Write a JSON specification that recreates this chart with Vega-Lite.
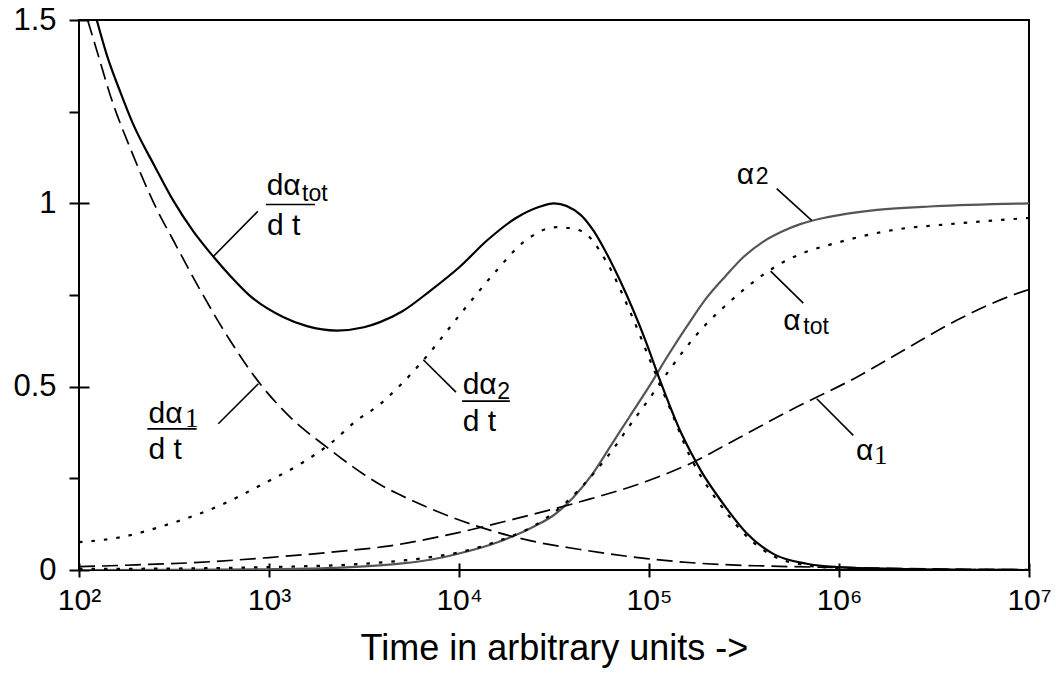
{
  "$schema": "https://vega.github.io/schema/vega-lite/v6.json",
  "width": 950,
  "height": 550,
  "autosize": {"type": "none"},
  "padding": {"left": 79, "top": 20, "right": 27, "bottom": 107},
  "background": "white",
  "config": {
    "view": {"stroke": "black", "strokeWidth": 2},
    "axis": {"grid": false, "labelColor": "black", "titleColor": "black", "tickColor": "black"}
  },
  "datasets": {
    "curves": [
      {"s":"datot","t":124,"v":1.5},{"s":"datot","t":141,"v":1.40},{"s":"datot","t":166,"v":1.30},{"s":"datot","t":192,"v":1.218},{"s":"datot","t":251,"v":1.10},{"s":"datot","t":313,"v":1.008},{"s":"datot","t":398,"v":0.925},{"s":"datot","t":509,"v":0.855},{"s":"datot","t":631,"v":0.80},{"s":"datot","t":789,"v":0.749},{"s":"datot","t":1186,"v":0.690},{"s":"datot","t":1585,"v":0.665},{"s":"datot","t":2270,"v":0.653},{"s":"datot","t":3162,"v":0.662},{"s":"datot","t":3837,"v":0.676},{"s":"datot","t":5012,"v":0.705},{"s":"datot","t":7079,"v":0.762},{"s":"datot","t":10000,"v":0.825},{"s":"datot","t":14130,"v":0.90},{"s":"datot","t":19950,"v":0.96},{"s":"datot","t":26300,"v":0.99},{"s":"datot","t":31620,"v":1.0},{"s":"datot","t":43350,"v":0.97},{"s":"datot","t":50930,"v":0.926},{"s":"datot","t":58880,"v":0.87},{"s":"datot","t":70310,"v":0.79},{"s":"datot","t":97270,"v":0.617},{"s":"datot","t":114300,"v":0.517},{"s":"datot","t":145500,"v":0.381},{"s":"datot","t":164400,"v":0.325},{"s":"datot","t":190500,"v":0.265},{"s":"datot","t":223900,"v":0.21},{"s":"datot","t":263000,"v":0.16},{"s":"datot","t":326600,"v":0.10},{"s":"datot","t":450800,"v":0.044},{"s":"datot","t":676100,"v":0.017},{"s":"datot","t":1000000,"v":0.008},{"s":"datot","t":1995000,"v":0.003},{"s":"datot","t":3981000,"v":0.001},{"s":"datot","t":10000000,"v":0},
      {"s":"da2","t":100,"v":0.076},{"s":"da2","t":164,"v":0.089},{"s":"da2","t":301,"v":0.126},{"s":"da2","t":552,"v":0.176},{"s":"da2","t":933,"v":0.235},{"s":"da2","t":1514,"v":0.294},{"s":"da2","t":2094,"v":0.344},{"s":"da2","t":2897,"v":0.408},{"s":"da2","t":3837,"v":0.452},{"s":"da2","t":4887,"v":0.503},{"s":"da2","t":6486,"v":0.572},{"s":"da2","t":10540,"v":0.708},{"s":"da2","t":15780,"v":0.817},{"s":"da2","t":21830,"v":0.894},{"s":"da2","t":32660,"v":0.935},{"s":"da2","t":43350,"v":0.926},{"s":"da2","t":59840,"v":0.84},{"s":"da2","t":79430,"v":0.705},{"s":"da2","t":105400,"v":0.55},{"s":"da2","t":129100,"v":0.44},{"s":"da2","t":164400,"v":0.31},{"s":"da2","t":190500,"v":0.25},{"s":"da2","t":223900,"v":0.196},{"s":"da2","t":263000,"v":0.148},{"s":"da2","t":326600,"v":0.092},{"s":"da2","t":450800,"v":0.038},{"s":"da2","t":676100,"v":0.013},{"s":"da2","t":1000000,"v":0.005},{"s":"da2","t":1995000,"v":0.001},{"s":"da2","t":10000000,"v":0},
      {"s":"da1","t":111,"v":1.5},{"s":"da1","t":126,"v":1.405},{"s":"da1","t":146,"v":1.295},{"s":"da1","t":193,"v":1.13},{"s":"da1","t":256,"v":0.985},{"s":"da1","t":313,"v":0.90},{"s":"da1","t":416,"v":0.781},{"s":"da1","t":624,"v":0.626},{"s":"da1","t":897,"v":0.508},{"s":"da1","t":1291,"v":0.417},{"s":"da1","t":2014,"v":0.335},{"s":"da1","t":3133,"v":0.262},{"s":"da1","t":3837,"v":0.233},{"s":"da1","t":4887,"v":0.205},{"s":"da1","t":7031,"v":0.168},{"s":"da1","t":12910,"v":0.117},{"s":"da1","t":23660,"v":0.08},{"s":"da1","t":43350,"v":0.056},{"s":"da1","t":97270,"v":0.031},{"s":"da1","t":201400,"v":0.017},{"s":"da1","t":398100,"v":0.011},{"s":"da1","t":1000000,"v":0.007},{"s":"da1","t":3162000,"v":0.003},{"s":"da1","t":10000000,"v":0.001},
      {"s":"a2","t":100,"v":0},{"s":"a2","t":316,"v":0.0005},{"s":"a2","t":1000,"v":0.002},{"s":"a2","t":1995,"v":0.005},{"s":"a2","t":3162,"v":0.01},{"s":"a2","t":5012,"v":0.018},{"s":"a2","t":7079,"v":0.028},{"s":"a2","t":10000,"v":0.045},{"s":"a2","t":15850,"v":0.075},{"s":"a2","t":25120,"v":0.12},{"s":"a2","t":31620,"v":0.15},{"s":"a2","t":39810,"v":0.197},{"s":"a2","t":50120,"v":0.26},{"s":"a2","t":63100,"v":0.34},{"s":"a2","t":79430,"v":0.42},{"s":"a2","t":100000,"v":0.50},{"s":"a2","t":125900,"v":0.585},{"s":"a2","t":158500,"v":0.665},{"s":"a2","t":199500,"v":0.74},{"s":"a2","t":251200,"v":0.80},{"s":"a2","t":316200,"v":0.855},{"s":"a2","t":398100,"v":0.895},{"s":"a2","t":501200,"v":0.923},{"s":"a2","t":631000,"v":0.944},{"s":"a2","t":794300,"v":0.958},{"s":"a2","t":1000000,"v":0.968},{"s":"a2","t":1585000,"v":0.982},{"s":"a2","t":3162000,"v":0.992},{"s":"a2","t":10000000,"v":1.0},
      {"s":"atot","t":100,"v":0.003},{"s":"atot","t":316,"v":0.004},{"s":"atot","t":1000,"v":0.008},{"s":"atot","t":3162,"v":0.017},{"s":"atot","t":7079,"v":0.035},{"s":"atot","t":10000,"v":0.048},{"s":"atot","t":15850,"v":0.078},{"s":"atot","t":25120,"v":0.122},{"s":"atot","t":35480,"v":0.178},{"s":"atot","t":50120,"v":0.258},{"s":"atot","t":63100,"v":0.322},{"s":"atot","t":79430,"v":0.395},{"s":"atot","t":100000,"v":0.466},{"s":"atot","t":125900,"v":0.54},{"s":"atot","t":158500,"v":0.61},{"s":"atot","t":199500,"v":0.67},{"s":"atot","t":251200,"v":0.72},{"s":"atot","t":316200,"v":0.765},{"s":"atot","t":398100,"v":0.805},{"s":"atot","t":501200,"v":0.838},{"s":"atot","t":631000,"v":0.862},{"s":"atot","t":1000000,"v":0.894},{"s":"atot","t":1862000,"v":0.926},{"s":"atot","t":4169000,"v":0.945},{"s":"atot","t":8710000,"v":0.958},{"s":"atot","t":10000000,"v":0.96},
      {"s":"a1","t":100,"v":0.009},{"s":"a1","t":200,"v":0.014},{"s":"a1","t":400,"v":0.02},{"s":"a1","t":1000,"v":0.034},{"s":"a1","t":2270,"v":0.05},{"s":"a1","t":4335,"v":0.066},{"s":"a1","t":8610,"v":0.095},{"s":"a1","t":19230,"v":0.138},{"s":"a1","t":43350,"v":0.186},{"s":"a1","t":97270,"v":0.242},{"s":"a1","t":164400,"v":0.29},{"s":"a1","t":301300,"v":0.362},{"s":"a1","t":552100,"v":0.435},{"s":"a1","t":1239000,"v":0.526},{"s":"a1","t":2270000,"v":0.604},{"s":"a1","t":4159000,"v":0.681},{"s":"a1","t":9333000,"v":0.76},{"s":"a1","t":10000000,"v":0.765}
    ],
    "labels": [
      {"t":972,"v":1.022,"txt":"dα","role":"main"},
      {"t":1493,"v":1.006,"txt":"tot","role":"sub"},
      {"t":976,"v":0.913,"txt":"d t","role":"main"},
      {"t":232,"v":0.4005,"txt":"dα","role":"main"},
      {"t":361,"v":0.389,"txt":"1","role":"serif"},
      {"t":232,"v":0.3034,"txt":"d t","role":"main"},
      {"t":10450,"v":0.481,"txt":"dα","role":"main"},
      {"t":15900,"v":0.467,"txt":"2","role":"sub"},
      {"t":10450,"v":0.378,"txt":"d t","role":"main"},
      {"t":289700,"v":1.054,"txt":"α","role":"main"},
      {"t":365000,"v":1.054,"txt":"2","role":"sub"},
      {"t":509300,"v":0.6535,"txt":"α","role":"main"},
      {"t":648600,"v":0.6426,"txt":"tot","role":"sub"},
      {"t":1227000,"v":0.2988,"txt":"α","role":"main"},
      {"t":1530000,"v":0.2898,"txt":"1","role":"serif"}
    ],
    "bars": [
      {"t":964,"t2":1746,"v":0.997},
      {"t":229,"t2":416,"v":0.385},
      {"t":10380,"t2":18530,"v":0.4606}
    ],
    "leaders": [
      {"t":509,"v":0.855,"t2":873,"v2":0.978},
      {"t":541,"v":0.399,"t2":879,"v2":0.508},
      {"t":6486,"v":0.5735,"t2":9638,"v2":0.485},
      {"t":470000,"v":1.040,"t2":717800,"v2":0.9536},
      {"t":436500,"v":0.8153,"t2":648600,"v2":0.728},
      {"t":763500,"v":0.467,"t2":1189000,"v2":0.367}
    ]
  },
  "layer": [
    {
      "data": {"name": "curves"},
      "transform": [{"filter": "datum.s == 'a2'"}],
      "mark": {"type": "line", "color": "#555555", "strokeWidth": 2.2, "interpolate": "monotone", "clip": true},
      "encoding": {
        "x": {
          "field": "t", "type": "quantitative",
          "scale": {"type": "log", "domain": [100, 10000000], "nice": false},
          "axis": {
            "title": "Time in arbitrary units ->",
            "values": [100, 1000, 10000, 100000, 1000000, 10000000],
            "labelExpr": "'10' + ['\u2070','\u00b9','\u00b2','\u00b3','\u2074','\u2075','\u2076','\u2077'][round(log(datum.value)/LN10)]",
            "offset": -7, "tickSize": 14, "tickWidth": 2, "domain": false,
            "labelPadding": 8, "labelFont": "Liberation Sans", "labelFontSize": 30,
            "labelFlush": false, "labelOverlap": false,
            "titleFont": "Liberation Sans", "titleFontSize": 36, "titleFontWeight": "normal", "titlePadding": 16
          }
        },
        "y": {
          "field": "v", "type": "quantitative",
          "scale": {"domain": [0, 1.5], "nice": false},
          "axis": {
            "title": null,
            "values": [0, 0.25, 0.5, 0.75, 1, 1.25, 1.5],
            "labelExpr": "datum.value % 0.5 == 0 ? format(datum.value, '~g') : ''",
            "offset": -10, "tickSize": 20, "tickWidth": 2, "domain": false,
            "tickDash": {"condition": {"test": "datum.value % 0.5 != 0", "value": [0, 10, 10, 0]}, "value": [100, 0]},
            "labelPadding": 13, "labelFont": "Liberation Sans", "labelFontSize": 31, "labelFlush": false, "labelOverlap": false
          }
        }
      }
    },
    {
      "data": {"name": "curves"},
      "transform": [{"filter": "datum.s == 'datot'"}],
      "mark": {"type": "line", "color": "black", "strokeWidth": 2.2, "interpolate": "monotone", "clip": true},
      "encoding": {"x": {"field": "t", "type": "quantitative"}, "y": {"field": "v", "type": "quantitative"}}
    },
    {
      "data": {"name": "curves"},
      "transform": [{"filter": "datum.s == 'da1' || datum.s == 'a1'"}],
      "mark": {"type": "line", "color": "black", "strokeWidth": 1.7, "strokeDash": [16, 7], "interpolate": "monotone", "clip": true},
      "encoding": {"x": {"field": "t", "type": "quantitative"}, "y": {"field": "v", "type": "quantitative"}, "detail": {"field": "s"}}
    },
    {
      "data": {"name": "curves"},
      "transform": [{"filter": "datum.s == 'da2' || datum.s == 'atot'"}],
      "mark": {"type": "line", "color": "black", "strokeWidth": 2.2, "strokeDash": [3.5, 9], "interpolate": "monotone", "clip": true},
      "encoding": {"x": {"field": "t", "type": "quantitative"}, "y": {"field": "v", "type": "quantitative"}, "detail": {"field": "s"}}
    },
    {
      "data": {"name": "leaders"},
      "mark": {"type": "rule", "color": "black", "strokeWidth": 1.6},
      "encoding": {
        "x": {"field": "t", "type": "quantitative"}, "y": {"field": "v", "type": "quantitative"},
        "x2": {"field": "t2"}, "y2": {"field": "v2"}
      }
    },
    {
      "data": {"name": "bars"},
      "mark": {"type": "rule", "color": "black", "strokeWidth": 1.6},
      "encoding": {
        "x": {"field": "t", "type": "quantitative"}, "y": {"field": "v", "type": "quantitative"},
        "x2": {"field": "t2"}
      }
    },
    {
      "data": {"name": "labels"},
      "transform": [{"filter": "datum.role == 'main'"}],
      "mark": {"type": "text", "align": "left", "baseline": "alphabetic", "font": "Liberation Sans", "fontSize": 30, "color": "black"},
      "encoding": {"x": {"field": "t", "type": "quantitative"}, "y": {"field": "v", "type": "quantitative"}, "text": {"field": "txt"}}
    },
    {
      "data": {"name": "labels"},
      "transform": [{"filter": "datum.role == 'sub'"}],
      "mark": {"type": "text", "align": "left", "baseline": "alphabetic", "font": "Liberation Sans", "fontSize": 23, "color": "black"},
      "encoding": {"x": {"field": "t", "type": "quantitative"}, "y": {"field": "v", "type": "quantitative"}, "text": {"field": "txt"}}
    },
    {
      "data": {"name": "labels"},
      "transform": [{"filter": "datum.role == 'serif'"}],
      "mark": {"type": "text", "align": "left", "baseline": "alphabetic", "font": "Liberation Serif", "fontSize": 27, "color": "black"},
      "encoding": {"x": {"field": "t", "type": "quantitative"}, "y": {"field": "v", "type": "quantitative"}, "text": {"field": "txt"}}
    }
  ]
}
